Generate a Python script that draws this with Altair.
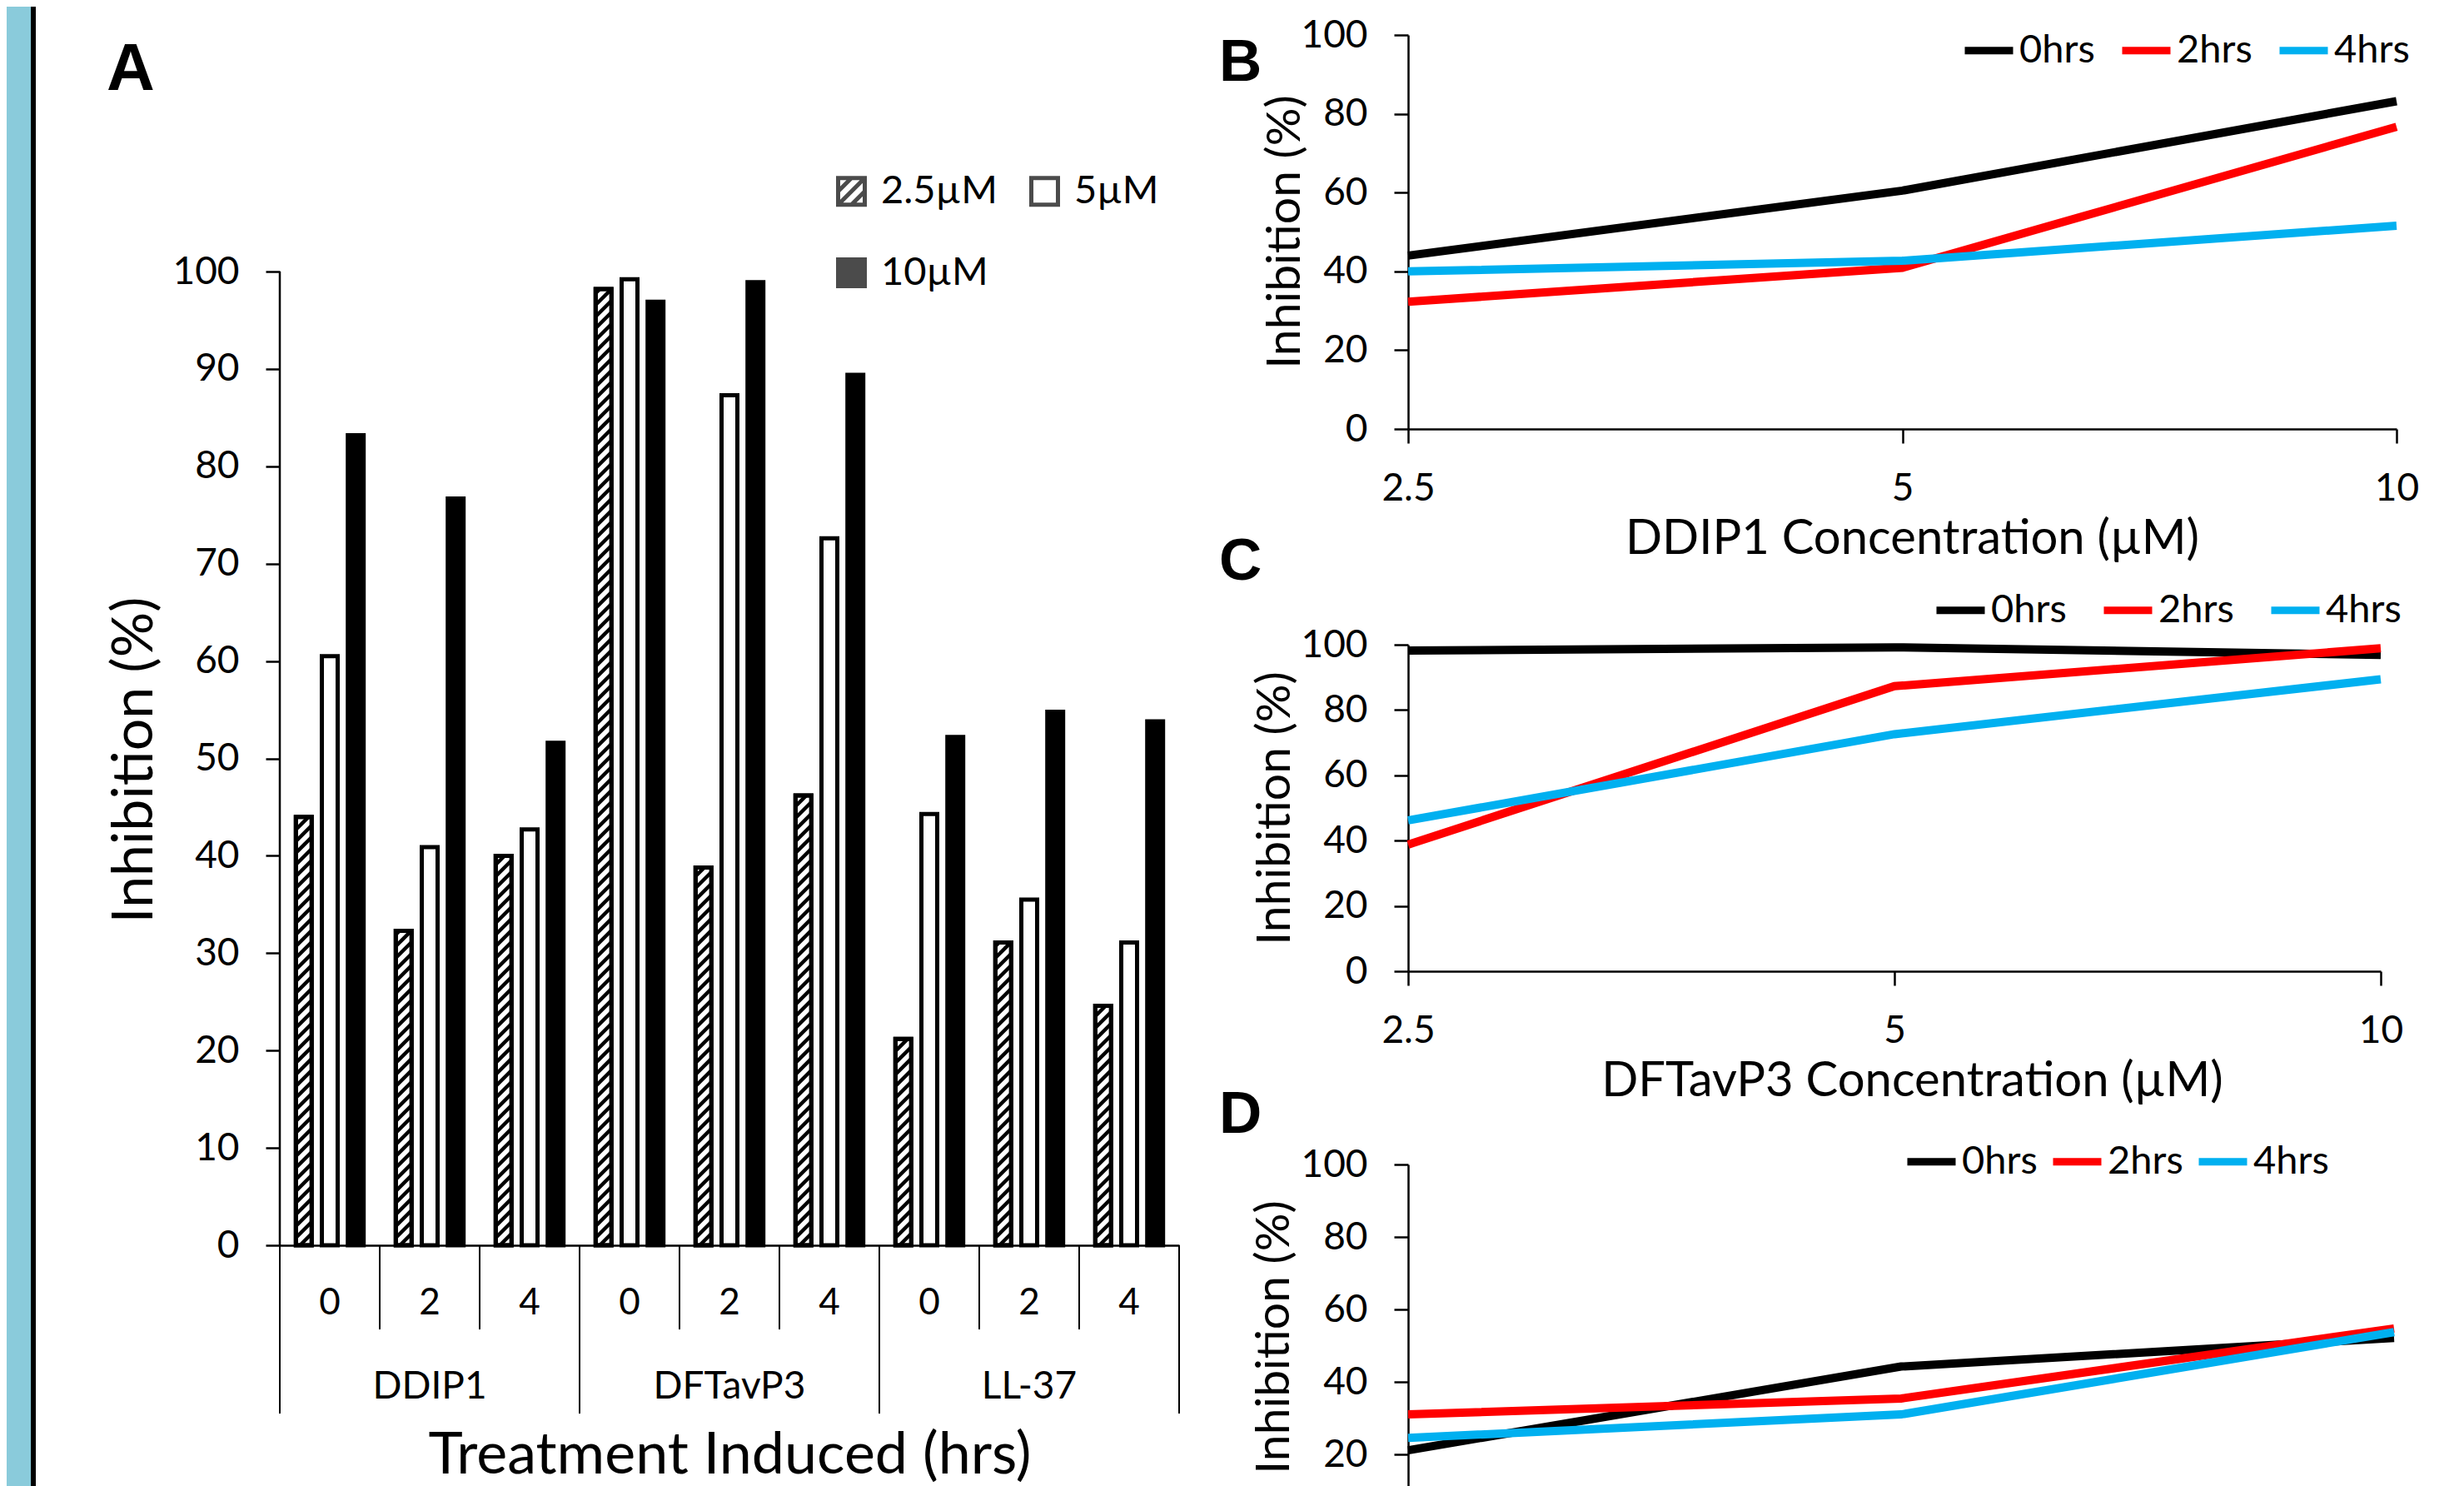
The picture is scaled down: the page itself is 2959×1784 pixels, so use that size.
import altair as alt
import pandas as pd

# ---------------- data ----------------
peptides = ["DDIP1", "DFTavP3", "LL-37"]
hours = ["0", "2", "4"]
concentrations = ["2.5µM", "5µM", "10µM"]
conc_ticks = ["2.5", "5", "10"]
time_labels = ["0hrs", "2hrs", "4hrs"]
# inhibition (%) indexed [hour][concentration]
ddip1 = [[44.0, 60.5, 83.2], [32.3, 40.9, 76.7], [40.0, 42.7, 51.6]]
dftavp3 = [[98.2, 99.2, 96.9], [38.8, 87.3, 98.9], [46.2, 72.6, 89.4]]
ll37 = [[21.2, 44.3, 52.2], [31.1, 35.5, 54.8], [24.6, 31.1, 53.8]]
y_ticks_a = list(range(0, 101, 10))
y_ticks_line = list(range(0, 101, 20))
line_titles = ["DDIP1 Concentration (µM)", "DFTavP3 Concentration (µM)", "LL-37 Concentration (µM)"]
panel_letters = ["A", "B", "C", "D"]
y_title = "Inhibition (%)"
x_title_a = "Treatment Induced (hrs)"

# ---------------- styling ----------------
FONT = "Lato"
LETTER_FONT = "Liberation Sans"
LINE_COLORS = ["#000000", "#FF0000", "#00B0F0"]
HATCH = "M-1,-1H1V1H-1Z M-1,1L1,-1 M-1,0L0,-1 M0,1L1,0"

series_values = [ddip1, dftavp3, ll37]
rows = []
for pi, p in enumerate(peptides):
    for hi, h in enumerate(hours):
        for ci, c in enumerate(concentrations):
            rows.append({"peptide": p, "hour": h, "conc": c, "pi": pi, "hi": hi, "ci": ci,
                         "g": pi * len(hours) + hi, "value": series_values[pi][hi][ci]})
bars = pd.DataFrame(rows)
n_groups = len(peptides) * len(hours)

W_A, H_A = 1080, 1453
PX = 11.69                 # pixels per % in panel A
YMAX_A = H_A / PX
BAR_W = 19 / 120
OFFS = 0.26
RISE = 19 / PX
PITCH = 14 / PX
BOTTOM = 1742              # bottom of the drawing, relative to the top of panel A

xA = alt.Scale(domain=[0, n_groups], nice=False, zero=False)
yA = alt.Scale(domain=[0, YMAX_A], nice=False, zero=True)

# one shared axis definition, given to every layer of panel A
axA_x = alt.Axis(labels=False, ticks=False, grid=False, domain=True, title=x_title_a,
                 titleFontSize=70, titleY=273, titleBaseline="alphabetic",
                 titleX=W_A / 2, titleAlign="center")
axA_y = alt.Axis(values=y_ticks_a, domain=False, tickSize=17, labelPadding=32, grid=False,
                 title=y_title, titleFontSize=68, titleX=-174, titleY=870, titleAngle=270,
                 titleAlign="center", titleBaseline="middle")

base = alt.Chart(bars).transform_calculate(
    cx=f"datum.g + 0.5 + (datum.ci - 1) * {OFFS}",
    xl=f"datum.g + 0.5 + (datum.ci - 1) * {OFFS} - {BAR_W / 2}",
    xr=f"datum.g + 0.5 + (datum.ci - 1) * {OFFS} + {BAR_W / 2}",
    fillc="datum.ci == 2 ? 'black' : 'white'",
    one="1",
)

one_row = pd.DataFrame({"t": [0]})

axis_layer = alt.Chart(pd.DataFrame({"x0": [0], "y0": [min(y_ticks_a)], "y1": [max(y_ticks_a)]})).mark_rule(
    color="black", strokeWidth=2.5).encode(
    x=alt.X("x0:Q", scale=xA, axis=axA_x),
    y=alt.Y("y0:Q", scale=yA, axis=axA_y),
    y2="y1:Q",
)

strip = alt.Chart(one_row).mark_rect(color="#8ACBDB").encode(
    x=alt.value(-328), x2=alt.value(-299), y=alt.value(-34), y2=alt.value(BOTTOM))
strip_line = alt.Chart(one_row).mark_rect(color="black").encode(
    x=alt.value(-299), x2=alt.value(-293), y=alt.value(-34), y2=alt.value(BOTTOM))

legend_a = alt.Legend(orient="none", legendX=663, legendY=164, columns=2, direction="horizontal",
                      title=None, symbolSize=1024, symbolStrokeColor="black", symbolStrokeWidth=5,
                      labelFontSize=47, labelOffset=12, columnPadding=30, rowPadding=45,
                      padding=0, labelFont=FONT, labelColor="black")

pts = base.mark_point(filled=True, stroke="black", strokeWidth=5, size=30).encode(
    x=alt.X("cx:Q", axis=axA_x),
    y=alt.Y("one:Q", axis=axA_y),
    color=alt.Color("conc:N", scale=alt.Scale(domain=concentrations, range=["white", "white", "black"]),
                    legend=legend_a),
    shape=alt.Shape("conc:N", scale=alt.Scale(domain=concentrations, range=[HATCH, "square", "square"]),
                    legend=legend_a),
)

bar_layer = base.mark_bar(stroke="black", strokeWidth=5).encode(
    x=alt.X("xl:Q", axis=axA_x),
    x2="xr:Q",
    y=alt.Y("value:Q", axis=axA_y),
    y2=alt.datum(0),
    fill=alt.Fill("fillc:N", scale=None),
)

hatch = base.transform_filter("datum.ci == 0").transform_calculate(
    k=f"sequence({-RISE}, datum.value, {PITCH})"
).transform_flatten(["k"]).transform_calculate(
    ys="max(datum.k, 0)",
    ye=f"min(datum.k + {RISE}, datum.value)",
).transform_filter("datum.ye > datum.ys").transform_calculate(
    xs=f"datum.xl + (datum.xr - datum.xl) * (datum.ys - datum.k) / {RISE}",
    xe=f"datum.xl + (datum.xr - datum.xl) * (datum.ye - datum.k) / {RISE}",
).mark_rule(color="black", strokeWidth=4.5).encode(
    x=alt.X("xs:Q", axis=axA_x), x2="xe:Q", y=alt.Y("ys:Q", axis=axA_y), y2="ye:Q")

outline = base.transform_filter("datum.ci == 0").mark_bar(
    fillOpacity=0, stroke="black", strokeWidth=5).encode(
    x=alt.X("xl:Q", axis=axA_x), x2="xr:Q", y=alt.Y("value:Q", axis=axA_y), y2=alt.datum(0))

div = pd.DataFrame({"b": list(range(n_groups + 1))})
div1 = alt.Chart(div).transform_filter(f"datum.b % {len(hours)} != 0").mark_rule(
    color="black", strokeWidth=2).encode(
    x=alt.X("b:Q", axis=axA_x), y=alt.value(H_A), y2=alt.value(H_A + 101))
div2 = alt.Chart(div).transform_filter(f"datum.b % {len(hours)} == 0").mark_rule(
    color="black", strokeWidth=2).encode(
    x=alt.X("b:Q", axis=axA_x), y=alt.value(H_A), y2=alt.value(H_A + 202))

hour_text = base.transform_filter("datum.ci == 0").transform_calculate(gx="datum.g + 0.5").mark_text(
    font=FONT, fontSize=44, baseline="middle", color="black").encode(
    x=alt.X("gx:Q", axis=axA_x), y=alt.value(H_A + 70), text="hour:N")
pep_text = base.transform_filter("datum.ci == 0 && datum.hi == 1").transform_calculate(
    gx="datum.g + 0.5").mark_text(font=FONT, fontSize=46, baseline="middle", color="black").encode(
    x=alt.X("gx:Q", axis=axA_x), y=alt.value(H_A + 170), text="peptide:N")

letter_a = alt.Chart(pd.DataFrame({"t": [panel_letters[0]]})).mark_text(
    font=LETTER_FONT, fontWeight="bold", fontSize=80, align="left", baseline="alphabetic",
    color="black").encode(x=alt.value(-208), y=alt.value(66), text="t:N")

panel_a = alt.layer(axis_layer, strip, strip_line, pts, bar_layer, hatch, outline, div1, div2,
                    hour_text, pep_text, letter_a).properties(width=W_A, height=H_A)


def line_panel(idx, width, height, ydom, yvals, show_x, leg_x, leg_y, col_pad,
               ytx, yty, letter_y, title_y):
    vals = series_values[idx]
    recs = []
    for hi, t in enumerate(time_labels):
        for ci, c in enumerate(conc_ticks):
            recs.append({"time": t, "conc": c, "value": vals[hi][ci]})
    df = pd.DataFrame(recs)
    if show_x:
        xaxis = alt.Axis(title=line_titles[idx], labelAngle=0, tickSize=17, labelPadding=32, grid=False,
                         titleFontSize=58, titleX=605, titleY=title_y, titleAlign="center",
                         titleBaseline="alphabetic")
    else:
        xaxis = None
    legend = alt.Legend(orient="none", legendX=leg_x, legendY=leg_y, direction="horizontal", columns=3,
                        title=None, symbolType="stroke", symbolSize=3364, symbolStrokeWidth=9,
                        labelFontSize=47, labelOffset=3, columnPadding=col_pad, padding=0,
                        labelFont=FONT, labelColor="black")
    lines = alt.Chart(df).mark_line(strokeWidth=10).encode(
        x=alt.X("conc:O", sort=conc_ticks, scale=alt.Scale(type="point", padding=0), axis=xaxis),
        y=alt.Y("value:Q", scale=alt.Scale(domain=ydom, nice=False, zero=False),
                axis=alt.Axis(values=yvals, tickSize=17, labelPadding=32, grid=False, title=y_title,
                              titleFontSize=57, titleX=ytx, titleY=yty, titleAngle=270,
                              titleAlign="center", titleBaseline="middle")),
        color=alt.Color("time:N", scale=alt.Scale(domain=time_labels, range=LINE_COLORS), legend=legend),
    )
    letter = alt.Chart(pd.DataFrame({"t": [panel_letters[idx + 1]]})).mark_text(
        font=LETTER_FONT, fontWeight="bold", fontSize=71, align="left", baseline="alphabetic",
        color="black").encode(x=alt.value(-227), y=alt.value(letter_y), text="t:N")
    return alt.layer(lines, letter).properties(width=width, height=height)


H_D = 42 + BOTTOM - 1398   # panel D runs to the bottom edge of the picture
panel_b = line_panel(0, 1187, 473, [0, 100], y_ticks_line, True, 664, -15, 14, -148, 236, 55, 149)
panel_c = line_panel(1, 1168, 392, [0, 100], y_ticks_line, True, 630, -75, 26, -160, 196, -78, 149)
panel_d = line_panel(2, 1184, H_D, [100 - H_D / 4.355, 100], y_ticks_line[1:], False, 595, -37, 0,
                     -161, 207, -38, 0)

right = alt.vconcat(
    panel_b,
    alt.vconcat(panel_c, panel_d, spacing=232, bounds="flush").resolve_scale(color="independent"),
    spacing=259, bounds="flush",
).resolve_scale(color="independent")

chart = alt.hconcat(panel_a, right, spacing=275, bounds="flush").resolve_scale(
    color="independent", shape="independent"
).configure_view(stroke=None).configure_axis(
    labelFont=FONT, titleFont=FONT, labelFontSize=46, labelColor="black", titleColor="black",
    domainColor="black", tickColor="black", domainWidth=2.5, tickWidth=2.5, titleFontWeight="normal",
).properties(padding={"left": 0, "top": 0, "right": 10, "bottom": 0})

chart.save("out.html", embed_options={"renderer": "svg", "actions": False})
